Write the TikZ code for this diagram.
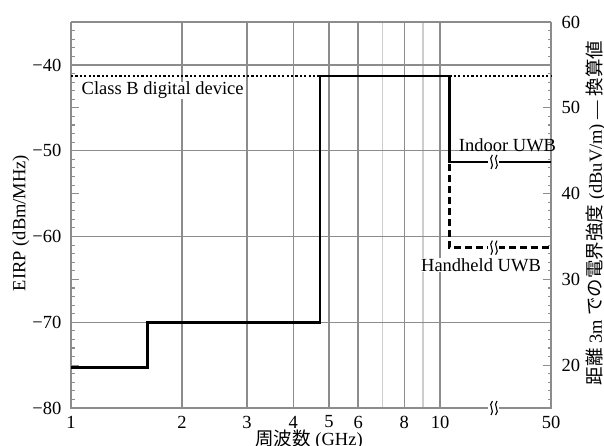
\documentclass[tikz,border=0pt]{standalone}
\usepackage{fontspec}
\setmainfont{Liberation Serif}
\newfontfamily\jfont{Noto Sans CJK JP}
\definecolor{gridgray}{RGB}{140,140,140}
\definecolor{faintgray}{RGB}{205,205,205}
\tikzset{
  gridline/.style={draw=gridgray, line width=1.3pt},
  faintline/.style={draw=faintgray, line width=1.3pt},
  axisline/.style={draw=gridgray, line width=2pt},
  tickmark/.style={draw=gridgray, line width=1.1pt},
  indoor/.style={draw=black, line width=2.6pt},
  handheld/.style={draw=black, line width=2.4pt, dash pattern=on 7pt off 4pt},
  classb/.style={draw=black, line width=2.2pt, dash pattern=on 2.2pt off 2.2pt},
  txt/.style={font=\fontsize{18.5}{20}\selectfont, inner sep=0.5pt},
  brk/.pic={
    \fill[white] (-5.5pt,-8pt) rectangle (5.5pt,8pt);
    \draw[line width=1.1pt] (-3pt,-7pt) .. controls (1.5pt,-2.5pt) and (-6.5pt,2.5pt) .. (-1.6pt,7pt);
    \draw[line width=1.1pt] (1.6pt,-7pt) .. controls (6.5pt,-2.5pt) and (-1.5pt,2.5pt) .. (3pt,7pt);
  }
}
\begin{document}
\begin{tikzpicture}[x=1pt,y=1pt]
\fill[white] (0,0) rectangle (604,445);
\useasboundingbox (0,0) rectangle (604,445);

% plot area: x = log10(f/GHz), y = EIRP + 80 dBm/MHz
\begin{scope}[shift={(71,37)}, x=369pt, y=8.575pt]
  % vertical grid
  \foreach \lx in {0.30103,0.47712,0.60206,0.69897,0.77815,0.90309,1}
    \draw[gridline] (\lx,0) -- (\lx,45);
  \foreach \lx in {0.84510,0.95424}
    \draw[faintline] (\lx,0) -- (\lx,45);
  % horizontal grid
  \foreach \e in {10,20,30,40}
    \draw[gridline] (0,\e) -- (1.30081,\e);
  \draw[gridline] (0,45) -- (1.30081,45);
  % axes
  \draw[axisline] (0,45) -- (0,0) -- (1.30081,0) -- (1.30081,45);
  % minor ticks on both vertical axes
  \foreach \e in {1,...,44}{
    \pgfmathtruncatemacro\rem{mod(\e,5)}
    \ifnum\rem=0
      \draw[tickmark] (0,\e) -- ++(8pt,0);
      \draw[tickmark] (1.30081,\e) -- ++(-8pt,0);
    \else
      \draw[tickmark] (0,\e) -- ++(3.5pt,0);
      \draw[tickmark] (1.30081,\e) -- ++(-3.5pt,0);
    \fi
  }

  % corner points of the limit lines
  \coordinate (c0) at (0,38.7);
  \coordinate (c1) at (1.30081,38.7);
  \coordinate (s0) at (0,4.7);
  \coordinate (s1) at (0.20683,4.7);
  \coordinate (s2) at (0.20683,10);
  \coordinate (s3) at (0.675,10);
  \coordinate (s4) at (0.675,38.7);
  \coordinate (s5) at (1.02531,38.7);
  \coordinate (s6) at (1.02531,28.7);
  \coordinate (s7) at (1.30081,28.7);
  \coordinate (h1) at (1.02531,18.7);
  \coordinate (h2) at (1.30081,18.7);

  \draw[classb] (c0) -- (c1);
  \draw[handheld] (s5) -- (h1) -- (h2);
  \draw[indoor] (s0) -- (s1) -- (s2) -- (s3) -- (s4) -- (s5) -- (s6) -- (s7);

  % axis breaks
  \pic at (1.1463,28.7) {brk};
  \pic at (1.1463,18.7) {brk};
  \pic at (1.1463,0) {brk};

  % left tick labels
  \foreach \e/\t in {0/80,10/70,20/60,30/50,40/40}
    \node[txt, anchor=east] (yl\t) at ([xshift=-9pt]0,\e) {−\t};
  % right tick labels
  \foreach \e/\t in {5/20,15/30,25/40,35/50,45/60}
    \node[txt, anchor=west] (yr\t) at ([xshift=10pt]1.30081,\e) {\t};
  % bottom tick labels
  \foreach \lx/\t in {0/1,0.30103/2,0.47712/3,0.60206/4,0.69897/5,0.77815/6,0.90309/8,1/10,1.30081/50}
    \node[txt] (xl\t) at ([yshift=-14pt]\lx,0) {\t};
\end{scope}

% curve labels
\node[txt, anchor=base west, fill=white] (lclassb) at (81,350) {Class B digital device};
\node[txt, anchor=base] (lindoor) at (507.5,293.5) {Indoor UWB};
\node[txt, anchor=base, fill=white] (lhand) at (481,173.5) {Handheld UWB};

% axis titles
\node[txt, rotate=90] (ytitle) at (21,222) {EIRP (dBm/MHz)};
\node[txt] (xtitle) at (309,5) {{\jfont 周波数} (GHz)};
\node[txt, rotate=90, inner sep=0pt] (rtitle) at (596,232) {{\jfont 距離} 3m {\jfont での電界強度} (dBuV/m) — {\jfont 換算値}};
\end{tikzpicture}
\end{document}
